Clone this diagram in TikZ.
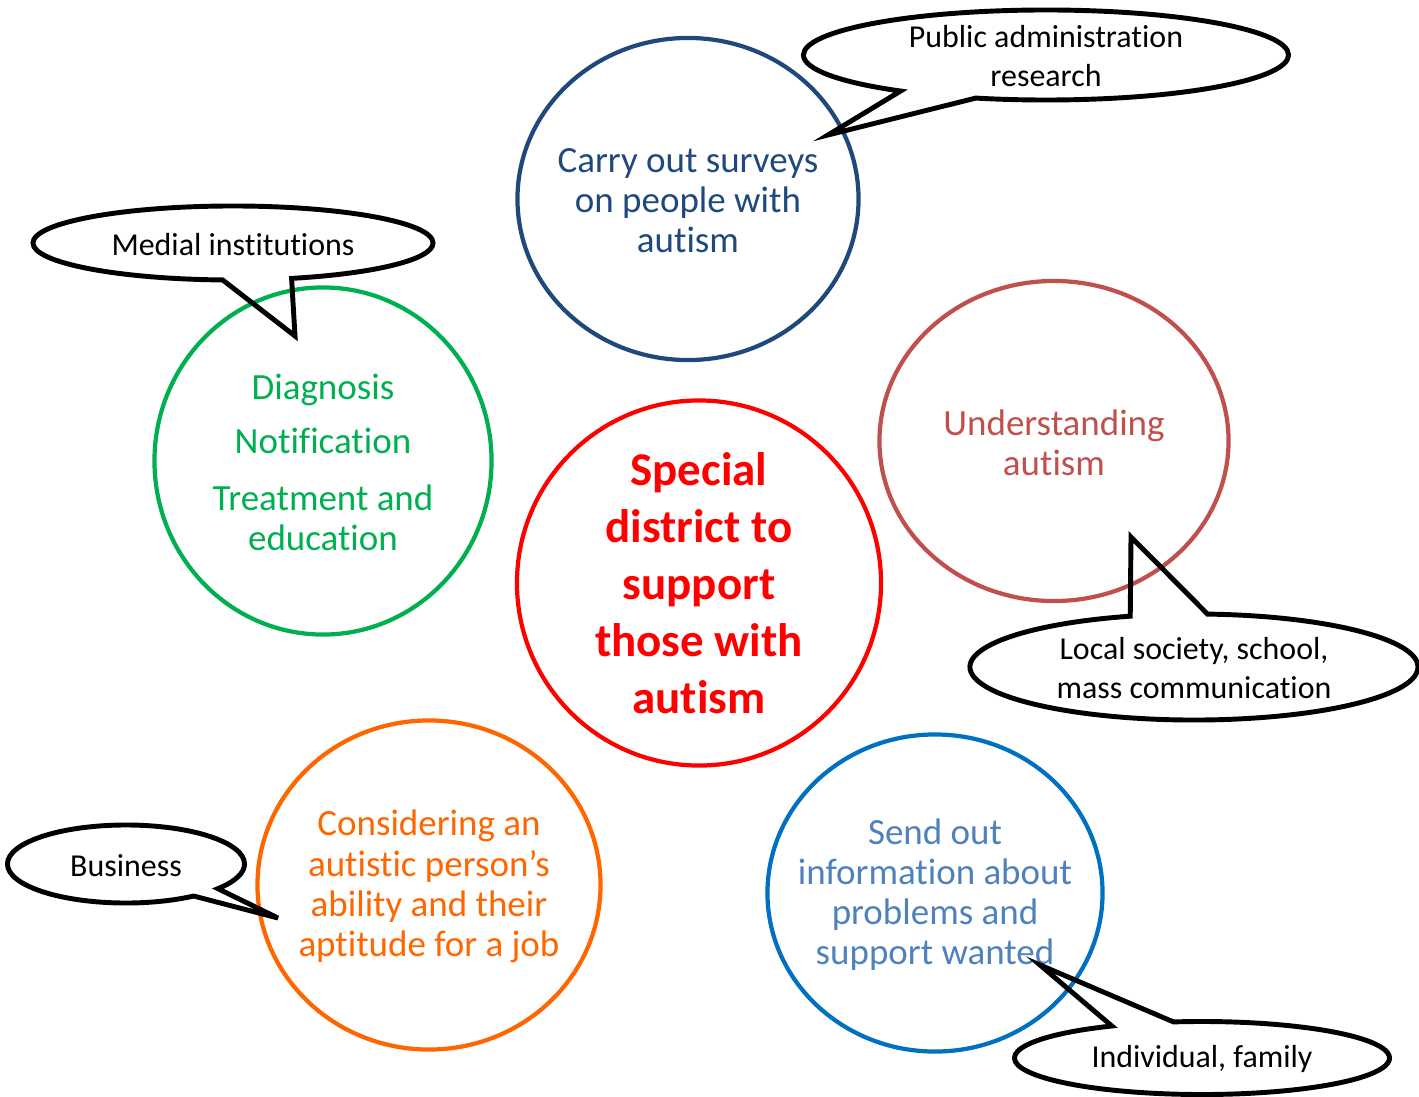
\documentclass[tikz,border=0pt]{standalone}
\usepackage{fontspec}
\setmainfont{Carlito}[RawFeature={-liga;-clig;-calt;-dlig}]
\usepackage{xcolor}
\usepackage{tikz}
\usetikzlibrary{shapes.geometric, shapes.callouts}

\definecolor{surveyblue}{HTML}{1F497D}
\definecolor{diaggreen}{HTML}{00B050}
\definecolor{understandred}{HTML}{C0504D}
\definecolor{joborange}{HTML}{FF6600}
\definecolor{inforing}{HTML}{0070C0}
\definecolor{infotext}{HTML}{4F81BD}

\tikzset{
  ring/.style={ellipse, draw, line width=3pt, inner sep=0pt},
  ringtext/.style={align=center, yshift=-1pt, font=\fontsize{26.3}{28.5}\selectfont},
  bubble/.style={ellipse callout, draw=black, line width=3.5pt, inner sep=0pt, callout pointer arc=20},
  bubbletext/.style={align=center, yshift=-1pt, font=\fontsize{22.7}{27.7}\selectfont}
}

\begin{document}
\begin{tikzpicture}[x=0.025cm, y=-0.025cm]
\useasboundingbox (0,0) rectangle (1419,1097);

\node(survey)[ring, draw=surveyblue, minimum width=8.525cm, minimum height=8.05cm] at (688,199) {};
\node(diag)[ring, draw=diaggreen, minimum width=8.425cm, minimum height=8.675cm] at (323,461) {};
\node(core)[ring, draw=red, minimum width=9.1cm, minimum height=9.125cm] at (699,583) {};
\node(understand)[ring, draw=understandred, minimum width=8.725cm, minimum height=8cm] at (1054,441) {};
\node(job)[ring, draw=joborange, minimum width=8.575cm, minimum height=8.225cm] at (429,885) {};
\node(info)[ring, draw=inforing, minimum width=8.375cm, minimum height=7.925cm] at (935,893) {};

\node(survey text)[ringtext, text=surveyblue] at (survey.center) {Carry out surveys\\on people with\\autism};
\node(diag text)[ringtext, text=diaggreen] at (diag.center) {Diagnosis\\[0.35cm]Notification\\[0.42cm]Treatment and\\education};
\node(core text)[align=center, text=red, font=\bfseries\fontsize{33.4}{40.5}\selectfont] at (core.center) {Special\\district to\\support\\those with\\autism};
\node(understand text)[ringtext, text=understandred] at (understand.center) {Understanding\\autism};
\node(job text)[ringtext, text=joborange] at (job.center) {Considering an\\autistic person’s\\ability and their\\aptitude for a job};
\node(info text)[ringtext, text=infotext] at (info.center) {Send out\\information about\\problems and\\support wanted};

\coordinate (public tip) at (828,135);
\coordinate (medial tip) at (295,336);
\coordinate (local tip) at (1131,537);
\coordinate (business tip) at (278,918);
\coordinate (family tip) at (1040,965);

\node(public)[bubble, minimum width=12.125cm, minimum height=2.25cm, callout absolute pointer={(public tip)}] at (1046,55) {};
\node(medial)[bubble, minimum width=10cm, minimum height=1.85cm, callout absolute pointer={(medial tip)}] at (233,243) {};
\node(local)[bubble, minimum width=11.2cm, minimum height=2.65cm, callout absolute pointer={(local tip)}] at (1194,667) {};
\node(business)[bubble, minimum width=5.925cm, minimum height=1.95cm, callout pointer arc=16, callout absolute pointer={(business tip)}] at (126,864) {};
\node(family)[bubble, minimum width=9.375cm, minimum height=1.825cm, callout absolute pointer={(family tip)}] at (1202,1058) {};

\node(public text)[bubbletext] at (public.center) {Public administration\\research};
\node(medial text)[bubbletext] at (medial.center) {Medial institutions};
\node(local text)[bubbletext] at (local.center) {Local society, school,\\mass communication};
\node(business text)[bubbletext] at (business.center) {Business};
\node(family text)[bubbletext] at (family.center) {Individual, family};
\end{tikzpicture}
\end{document}
